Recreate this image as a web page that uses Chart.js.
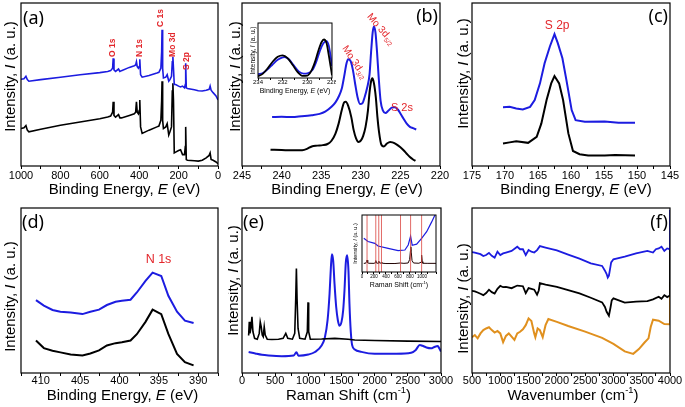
<!DOCTYPE html>
<html>
<head>
<meta charset="utf-8">
<script src="https://cdn.jsdelivr.net/npm/chart.js@4.4.0/dist/chart.umd.min.js"></script>
<style>
body { margin: 0; background: #fff; }
#wrap { position: relative; width: 685px; height: 407px; overflow: hidden; }
canvas { position: absolute; }
</style>
</head>
<body>
<div id="wrap">
  <canvas id="ca" width="228" height="203" style="left:0;top:0"></canvas>
  <canvas id="cb" width="229" height="203" style="left:228px;top:0"></canvas>
  <canvas id="cc" width="228" height="203" style="left:457px;top:0"></canvas>
  <canvas id="cd" width="228" height="204" style="left:0;top:203px"></canvas>
  <canvas id="ce" width="229" height="204" style="left:228px;top:203px"></canvas>
  <canvas id="cf" width="228" height="204" style="left:457px;top:203px"></canvas>
  <canvas id="cbi" width="90" height="76" style="left:246px;top:20px"></canvas>
  <canvas id="cei" width="90" height="78" style="left:350px;top:212px"></canvas>
</div>
<script>
// (a) XPS survey
const aEnergy = [1000, 985, 975, 968, 960, 900, 800, 700, 600, 560,
  545, 535, 532, 528, 520, 505, 498, 490, 450, 425,
  418, 414, 410, 404, 400, 397, 393, 385, 350, 310,
  300, 290, 286, 284, 281, 277, 265, 258, 250, 244,
  236, 232, 229, 226, 222, 215, 200, 190, 180, 170,
  166, 164, 161, 155, 120, 100, 80, 60, 45, 40,
  35, 25, 10, 0];
const aBlue = [53.2, 53.5, 55, 53, 52, 53, 54.4, 56, 57.3, 58,
  58.5, 60, 66, 59, 58, 59.5, 58, 58.5, 60.5, 61.5,
  62, 64, 61, 60, 61, 65.5, 56, 54.5, 55.5, 57,
  57.5, 60, 70, 83.6, 60, 54, 54.5, 56, 52, 53,
  55, 64, 67, 60, 50, 50, 49, 48.5, 49, 48,
  50, 63, 48, 47.5, 46.8, 46.2, 46, 46.5, 47, 49,
  46.5, 45, 43, 40.5];
const aBlack = [23, 23.5, 24.8, 22, 21, 22.5, 25, 27, 29, 30,
  30.6, 33, 39.4, 31, 30, 31.5, 29.5, 29.5, 31, 32,
  33, 39.4, 33, 32, 34, 40.5, 24, 20, 22, 24,
  24.5, 28, 40, 52, 28, 23, 24, 26, 19, 21,
  24, 46, 50.7, 40, 8, 8.5, 9.5, 10, 7, 7,
  12, 24, 4, 3.5, 3.2, 3, 3.5, 5, 6.5, 8,
  4, 3.5, 2.5, 1.4];
const aPeakNames = ['O 1s', 'N 1s', 'C 1s', 'Mo 3d', 'S 2p'];
const aPeakE = [533, 396, 292, 230, 159];
const aPeakI = [66.9, 66.9, 85.3, 66.9, 58.9];

// (b) Mo 3d
const bBlueE = [241.2, 240, 238.7, 237.5, 236.2, 235.2, 234.5, 233.7, 233.2, 232.8,
  232.4, 232.1, 231.8, 231.6, 231.3, 231.0, 230.7, 230.4, 230.1, 229.8,
  229.5, 229.2, 228.9, 228.7, 228.5, 228.35, 228.15, 227.95, 227.75, 227.5,
  227.2, 226.9, 226.5, 226.1, 225.7, 225.3, 225.0, 224.6, 224.2, 223.8,
  223.4, 223.0];
const bBlue = [30, 30.2, 30, 30.5, 31.2, 32, 33.3, 36.3, 39, 42.5,
  47.5, 55, 63, 65.5, 64.5, 59, 50, 42, 38, 38.5,
  42.5, 48, 56, 70, 82, 85.6, 82, 70, 55, 40,
  34, 32.5, 34, 35.8, 36, 34.5, 32.2, 29, 26, 24,
  23.2, 22.4];
const bBlackE = [241.4, 240, 238.5, 237.4, 236.8, 236.2, 235.5, 234.8, 234.2, 233.7,
  233.2, 232.8, 232.4, 232.1, 231.9, 231.6, 231.2, 230.9, 230.6, 230.3,
  230.0, 229.7, 229.4, 229.1, 228.9, 228.7, 228.55, 228.35, 228.1, 227.9,
  227.7, 227.4, 227.1, 226.7, 226.3, 226.0, 225.5, 225.0, 224.6, 224.2,
  223.8, 223.4, 223.1];
const bBlack = [10, 9.8, 9.6, 9.7, 10.5, 12, 12.5, 12.8, 13.5, 15.5,
  19.9, 26, 34.3, 39, 39.4, 37, 30, 22, 17, 14.8,
  15.5, 18.5, 24, 34, 45, 52, 53.8, 51, 42, 30,
  21, 13, 12, 13.8, 14.8, 14.5, 13.3, 11.5, 9.7, 7.5,
  5.5, 4, 3.1];
// inset of (b)
const biBlackE = [234.0, 233.6, 233.2, 232.8, 232.4, 232.0, 231.6, 231.2, 230.8, 230.4,
  230.0, 229.7, 229.4, 229.1, 228.85, 228.65, 228.45, 228.25, 228.0];
const biBlack = [3, 8, 18, 30, 38.5, 41, 36, 24, 11, 4,
  4.5, 12, 28, 50, 65, 70, 64, 40, 5];
const biBlueE = [234.0, 233.6, 233.2, 232.8, 232.4, 232.0, 231.85, 231.5, 231.1, 230.7,
  230.3, 230.0, 229.6, 229.3, 229.0, 228.7, 228.45, 228.25, 228.0];
const biBlue = [7, 9, 16, 25, 33, 37.5, 38, 34, 23, 12,
  8, 8.5, 14, 28, 48, 63, 67, 58, 22];

// (c) S 2p
const cBlueE = [170.3, 169.3, 168.3, 167.3, 166.2, 165.5, 164.7, 164.0, 163.2, 162.5,
  162.0, 161.3, 160.7, 159.9, 159.3, 157.9, 154.9, 152.8, 150.3];
const cBlue = [36, 36.3, 35.3, 34.7, 36.3, 40.5, 50.7, 63, 73.3, 80.9,
  75.4, 66.1, 52.8, 34.3, 28.1, 27.1, 27.3, 26.5, 26.5];
const cBlackE = [170.3, 169.3, 168.3, 166.5, 165.2, 164.5, 163.7, 163.0, 162.5, 161.8,
  161.2, 160.4, 159.7, 158.7, 157.4, 154.9, 153.3, 150.3];
const cBlack = [13.8, 14.5, 15.2, 14.2, 17.9, 26, 40.5, 50.7, 55.2, 50.7,
  40.5, 20, 9.2, 7.2, 6.4, 6.4, 6.8, 6.4];

// (d) N 1s
const dEnergy = [410.6, 409.6, 408.5, 407.5, 406.2, 404.7, 403.7, 402.6, 401.6, 400.5,
  399.7, 398.6, 397.8, 396.7, 395.8, 394.7, 393.8, 392.7, 391.7, 390.6];
const dBlue = [44.2, 40.8, 38.2, 37.1, 36.7, 35.7, 37.1, 38.4, 41.2, 43.2,
  43.8, 44.4, 48.8, 55.8, 60.8, 58.8, 46.8, 37.1, 31.7, 30.3];
const dBlack = [19.7, 15.1, 13.5, 12.5, 11.2, 10.6, 11.8, 13.7, 16.7, 18.1,
  18.6, 19.7, 23.5, 31, 38.4, 35.7, 23.7, 11.6, 6.6, 4.6];

// (e) Raman
const eBlackX = [100, 110, 120, 135, 150, 165, 190, 230, 260, 275,
  290, 305, 320, 335, 350, 380, 450, 550, 620, 660,
  690, 760, 795, 810, 820, 830, 845, 870, 950, 985,
  995, 1005, 1030, 1200, 1400, 1600, 1700, 2000, 2500, 3000];
const eBlack = [22.7, 31, 24, 27, 34, 25, 21, 20.5, 24, 31,
  28, 23, 22, 28, 23, 20.5, 20.3, 20.5, 21, 24,
  21, 20.5, 24, 45, 63.3, 45, 27, 21, 20.5, 25,
  42.8, 25, 20.5, 20.6, 21, 20.5, 20, 19.7, 19.3, 19.1];
const eBlueX = [100, 200, 300, 400, 600, 780, 820, 850, 1000, 1100,
  1200, 1250, 1290, 1320, 1340, 1355, 1375, 1395, 1420, 1445,
  1470, 1500, 1525, 1545, 1565, 1585, 1605, 1620, 1640, 1660,
  1700, 1800, 2000, 2300, 2550, 2620, 2680, 2720, 2780, 2850,
  2900, 2950, 2980, 3000];
const eBlue = [12.7, 11.8, 11, 10.6, 10.2, 10.6, 12.6, 10.5, 11.2, 12.7,
  16.7, 21.7, 32, 48, 64, 71.9, 68, 54, 40, 32,
  28.7, 31, 38, 50, 66.9, 71.3, 62, 42, 25, 17,
  14.3, 12.8, 11.6, 11.7, 12.3, 14, 17, 16.5, 15.5, 15,
  15.8, 16.3, 14.5, 13];
// inset of (e)
const eiBlueX = [30, 100, 213, 268, 436, 603, 716, 771, 811, 838, 912, 995, 1079, 1163, 1218];
const eiBlue = [56, 50, 46.5, 41.5, 37, 32.7, 34, 43.4, 60, 43, 45, 56, 68.5, 87, 100];
const eiBlackX = [30, 60, 75, 85, 95, 110, 200, 220, 230, 240,
  270, 280, 290, 320, 330, 340, 400, 550, 640, 700,
  770, 795, 808, 815, 822, 835, 860, 950, 985, 995,
  1005, 1015, 1100, 1235];
const eiBlack = [8.8, 9, 12, 15, 10, 9, 8.8, 10, 14, 9.5,
  9, 13, 10, 9, 11, 9, 8.5, 8.5, 9.5, 8.8,
  9.5, 16, 32, 40, 30, 14, 9.5, 9, 11, 24.5,
  12, 9, 8.8, 8.8];
const eiLines = [84, 230, 280, 325, 643, 811, 995];

// (f) FTIR
const fBlueX = [500, 550, 600, 650, 700, 750, 800, 850, 900, 950,
  1000, 1050, 1100, 1200, 1300, 1350, 1400, 1450, 1500, 1550,
  1600, 1650, 1700, 1800, 2000, 2200, 2400, 2600, 2800, 2850,
  2880, 2900, 2920, 2940, 2960, 3000, 3200, 3400, 3600, 3700,
  3750, 3800, 3850, 3900, 3950, 4000, 4000];
const fBlue = [73.3, 73, 72.5, 72, 70.9, 71.5, 72.8, 71, 69.9, 73.5,
  71.5, 72.5, 73, 74, 76.5, 75, 75, 71.5, 74.5, 73.5,
  73, 74.5, 76.9, 76, 74.3, 71.8, 69.3, 66.5, 64.9, 62,
  60, 57.8, 59, 63, 67, 68.9, 70.5, 72.5, 74, 73,
  75, 75.5, 76.5, 74, 75.5, 75, 99];
const fBlackX = [500, 550, 600, 650, 700, 750, 800, 850, 900, 950,
  1000, 1050, 1100, 1200, 1300, 1400, 1450, 1500, 1550, 1600,
  1650, 1680, 1700, 1800, 2000, 2200, 2400, 2600, 2800, 2850,
  2880, 2920, 2950, 2970, 3000, 3200, 3400, 3600, 3700, 3800,
  3850, 3900, 3950, 4000, 4000];
const fBlack = [49.8, 49.5, 48.8, 48, 47.2, 48.5, 50.5, 49, 48.2, 51,
  52.8, 52, 52.2, 51.4, 53, 52.6, 48.4, 51.5, 51, 50.5,
  47.5, 50, 54.4, 53.5, 52.2, 50.2, 48.2, 45.6, 42.8, 40,
  37.1, 34.7, 40, 44, 45.2, 42.6, 43.2, 43.6, 44.6, 46.2,
  45, 47.2, 46, 47, 75.5];
const fOrangeX = [500, 550, 600, 650, 700, 750, 800, 850, 900, 950,
  1000, 1050, 1100, 1150, 1200, 1250, 1300, 1350, 1400, 1450,
  1500, 1550, 1600, 1620, 1660, 1700, 1750, 1800, 1850, 2000,
  2200, 2500, 2800, 3000, 3200, 3350, 3450, 3550, 3620, 3660,
  3700, 3800, 3900, 4000, 4000];
const fOrange = [21.7, 23, 21, 24, 26, 27, 27.7, 26, 24.5, 25.5,
  24, 18.7, 22.5, 24, 22, 20, 24, 25, 26.5, 29,
  33.1, 31.5, 24, 21.7, 27, 26, 21.7, 29, 32.7, 31,
  28.5, 25.1, 21.3, 17.7, 13.1, 11.6, 14.5, 18.5, 21, 28,
  32.3, 31.7, 29.7, 29.5, 55];

const BLUE = '#1c1ce0';
const BLACK = '#000000';
const ORANGE = '#e0901e';
const RED = '#e3262b';
const FONT = "'Liberation Sans', Arial, sans-serif";
Chart.defaults.font.family = FONT;
Chart.defaults.color = '#000';

// title pieces: [text, style, scale, raise]
const T_XPS = [['Binding Energy, ', ''], ['E', 'italic '], [' (eV)', '']];
const T_RAMAN = [['Raman Shift (cm', ''], ['-1', '', 0.62, -0.38], [')', '']];
const T_WAVE = [['Wavenumber (cm', ''], ['-1', '', 0.62, -0.38], [')', '']];
const T_INT = [['Intensity, ', ''], ['I', 'italic '], [' (a. u.)', '']];

function pts(xs, ys) {
  return xs.map((x, i) => ({ x: x, y: ys[i] }));
}
function line(xs, ys, color, width, smooth) {
  return {
    data: pts(xs, ys), borderColor: color, borderWidth: width,
    pointRadius: 0, fill: false, tension: 0,
    cubicInterpolationMode: smooth ? 'monotone' : 'default'
  };
}

function drawParts(ctx, parts, size, cx, cy) {
  let total = 0;
  parts.forEach(p => {
    ctx.font = p[1] + (size * (p[2] || 1)) + 'px ' + FONT;
    total += ctx.measureText(p[0]).width;
  });
  let x = cx - total / 2;
  ctx.textAlign = 'left';
  ctx.textBaseline = 'middle';
  parts.forEach(p => {
    ctx.font = p[1] + (size * (p[2] || 1)) + 'px ' + FONT;
    ctx.fillText(p[0], x, cy + (p[3] || 0) * size);
    x += ctx.measureText(p[0]).width;
  });
}

// frame, titles, panel letter and peak labels
const decoInfo = {};
const deco = {
  id: 'deco',
  afterDatasetsDraw(chart) {
    const d = decoInfo[chart.canvas.id] || {};
    const ctx = chart.ctx, a = chart.chartArea;
    ctx.save();
    ctx.strokeStyle = '#000';
    ctx.lineWidth = d.frame || 1.2;
    ctx.strokeRect(a.left, a.top, a.right - a.left, a.bottom - a.top);
    ctx.fillStyle = '#000';
    if (d.xt) drawParts(ctx, d.xt.parts, d.xt.size, (a.left + a.right) / 2 + d.xt.dx, d.xt.y);
    if (d.yt) {
      ctx.save();
      ctx.translate(d.yt.x, (a.top + a.bottom) / 2 + d.yt.dy);
      ctx.rotate(-Math.PI / 2);
      drawParts(ctx, T_INT, d.yt.size, 0, 0);
      ctx.restore();
    }
    if (d.label) {
      ctx.font = "18px 'Noto Sans'";
      ctx.textBaseline = 'alphabetic';
      ctx.textAlign = d.label.right ? 'right' : 'left';
      const lx = d.label.right ? a.right + d.label.dx : a.left + d.label.dx;
      ctx.fillText(d.label.t, lx, a.top + d.label.dy);
    }
    (d.notes || []).forEach(n => {
      const px = chart.scales.x.getPixelForValue(n.x);
      const py = chart.scales.y.getPixelForValue(n.y);
      ctx.save();
      ctx.translate(px, py);
      ctx.rotate((n.rot || 0) * Math.PI / 180);
      ctx.fillStyle = RED;
      ctx.font = n.font;
      ctx.textAlign = n.align || 'left';
      ctx.textBaseline = 'middle';
      ctx.fillText(n.t, 0, 0);
      if (n.sub) {
        const w = ctx.measureText(n.t).width;
        ctx.font = n.subFont;
        ctx.fillText(n.sub, w + 0.5, 3.5);
      }
      ctx.restore();
    });
    ctx.restore();
  }
};

function panel(id, p) {
  const major = p.major;
  new Chart(document.getElementById(id), {
    type: 'line',
    data: { datasets: p.datasets },
    options: {
      responsive: false, animation: false, devicePixelRatio: 1,
      layout: { padding: { top: p.top, right: p.right, left: 0, bottom: 0 } },
      plugins: { legend: { display: false }, tooltip: { enabled: false } },
      scales: {
        x: {
          type: 'linear', min: p.min, max: p.max, reverse: !!p.reverse,
          afterFit: s => { s.height = p.xH; },
          ticks: {
            stepSize: p.step, autoSkip: false, maxRotation: 0, padding: p.tickPad,
            font: { size: p.tickSize }, color: '#000',
            callback: v => (Math.abs(v / major - Math.round(v / major)) < 1e-6 ? v : '')
          },
          grid: { drawOnChartArea: false, tickLength: p.tickLen, color: '#000' },
          border: { display: false }
        },
        y: {
          min: p.ymin === undefined ? 0 : p.ymin, max: 100,
          afterFit: s => { s.width = p.yW; },
          ticks: { display: false }, grid: { display: false }, border: { display: false }
        }
      }
    },
    plugins: [deco]
  });
}

const row1 = { top: 3, xH: 37, tickPad: 0, tickLen: 3, tickSize: 11 };
const row2 = { top: 5, xH: 34, tickPad: -2, tickLen: 3, tickSize: 11 };

decoInfo.ca = {
  label: { t: '(a)', dx: 2, dy: 21 },
  xt: { parts: T_XPS, size: 15, dx: 5, y: 190 },
  yt: { size: 15, x: 11, dy: -8 },
  notes: aPeakNames.map((t, i) => ({ t: t, x: aPeakE[i], y: aPeakI[i], rot: -90, font: 'bold 8.5px ' + FONT }))
};
panel('ca', Object.assign({}, row1, {
  right: 10, yW: 21, min: 0, max: 1000, reverse: true, step: 100, major: 200,
  datasets: [line(aEnergy, aBlue, BLUE, 1.6), line(aEnergy, aBlack, BLACK, 1.6)]
}));

decoInfo.cb = {
  label: { t: '(b)', dx: -2, dy: 19, right: true },
  xt: { parts: T_XPS, size: 15, dx: 6, y: 190 },
  yt: { size: 15, x: 8, dy: -8 },
  notes: [
    { t: 'Mo 3d', sub: '5/2', x: 229.0, y: 92.6, rot: 49, font: '10px ' + FONT, subFont: '6.5px ' + FONT },
    { t: 'Mo 3d', sub: '3/2', x: 232.1, y: 73.2, rot: 56, font: '10px ' + FONT, subFont: '6.5px ' + FONT },
    { t: 'S 2s', x: 226.2, y: 35.3, font: '11px ' + FONT }
  ]
};
panel('cb', Object.assign({}, row1, {
  right: 17, yW: 14, min: 220, max: 245, reverse: true, step: 2.5, major: 5,
  datasets: [line(bBlueE, bBlue, BLUE, 2, true), line(bBlackE, bBlack, BLACK, 2, true)]
}));

decoInfo.cc = {
  label: { t: '(c)', dx: -2, dy: 19, right: true },
  xt: { parts: T_XPS, size: 15, dx: 5, y: 190 },
  yt: { size: 15, x: 7, dy: -11 },
  notes: [{ t: 'S 2p', x: 162.1, y: 85.9, align: 'center', font: '12px ' + FONT }]
};
panel('cc', Object.assign({}, row1, {
  right: 15, yW: 15, min: 145, max: 175, reverse: true, step: 2.5, major: 5,
  datasets: [line(cBlueE, cBlue, BLUE, 2), line(cBlackE, cBlack, BLACK, 2)]
}));

decoInfo.cd = {
  label: { t: '(d)', dx: 1, dy: 20 },
  xt: { parts: T_XPS, size: 15, dx: 3, y: 193 },
  yt: { size: 15, x: 11, dy: 6 },
  notes: [{ t: 'N 1s', x: 395.05, y: 68.5, align: 'center', font: '12.5px ' + FONT }]
};
panel('cd', Object.assign({}, row2, {
  right: 10, yW: 21, min: 387.5, max: 412.5, reverse: true, step: 2.5, major: 5,
  datasets: [line(dEnergy, dBlue, BLUE, 2), line(dEnergy, dBlack, BLACK, 2)]
}));

decoInfo.ce = {
  label: { t: '(e)', dx: 1, dy: 20 },
  xt: { parts: T_RAMAN, size: 15, dx: 7, y: 193 },
  yt: { size: 15, x: 6, dy: -10 }
};
panel('ce', Object.assign({}, row2, {
  right: 16, yW: 14, min: 0, max: 3000, step: 250, major: 500,
  datasets: [line(eBlackX, eBlack, BLACK, 1.6), line(eBlueX, eBlue, BLUE, 2, true)]
}));

decoInfo.cf = {
  label: { t: '(f)', dx: -2, dy: 20, right: true },
  xt: { parts: T_WAVE, size: 15, dx: 2, y: 193 },
  yt: { size: 15, x: 7, dy: 8 }
};
panel('cf', Object.assign({}, row2, {
  right: 15, yW: 15, min: 500, max: 4000, step: 250, major: 500,
  datasets: [line(fBlueX, fBlue, BLUE, 1.8), line(fBlackX, fBlack, BLACK, 1.8), line(fOrangeX, fOrange, ORANGE, 2)]
}));

// insets
decoInfo.cbi = {
  frame: 1,
  xt: { parts: T_XPS, size: 7, dx: 0, y: 71 },
  yt: { size: 6.5, x: 7.5, dy: 0 }
};
panel('cbi', {
  top: 3, right: 4, yW: 12, xH: 18, tickPad: -1, tickLen: 2, tickSize: 6,
  min: 228, max: 234, reverse: true, step: 1, major: 2,
  datasets: [line(biBlackE, biBlack, BLACK, 1.8, true), line(biBlueE, biBlue, BLUE, 1.8, true)]
});

const eiLineSets = eiLines.map(v => ({
  data: [{ x: v, y: -7.5 }, { x: v, y: 100 }], borderColor: '#d9443f', borderWidth: 0.8, pointRadius: 0
}));
decoInfo.cei = {
  frame: 1,
  xt: { parts: T_RAMAN, size: 7, dx: 0, y: 73.5 },
  yt: { size: 5.5, x: 5, dy: 0 }
};
panel('cei', {
  top: 3, right: 4, yW: 12, xH: 18, tickPad: 0, tickLen: 2, tickSize: 4.5,
  ymin: -7.5, min: 0, max: 1235, step: 100, major: 200,
  datasets: eiLineSets.concat([line(eiBlackX, eiBlack, '#200000', 1), line(eiBlueX, eiBlue, BLUE, 1.2)])
});
</script>
</body>
</html>
